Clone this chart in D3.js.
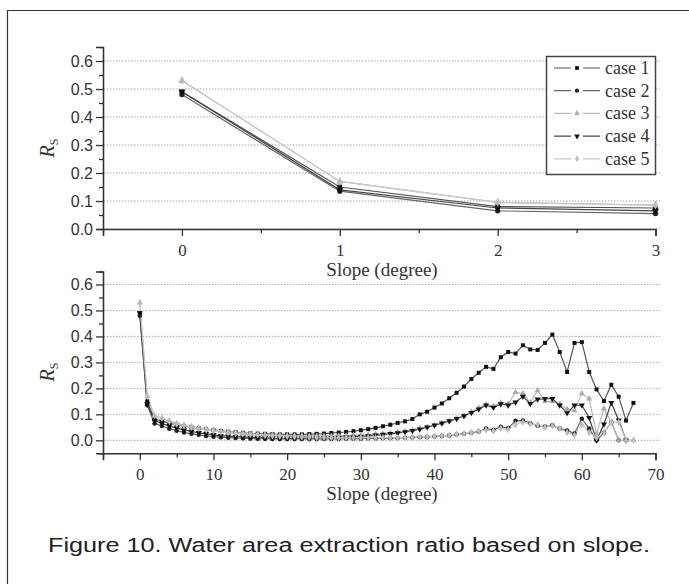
<!DOCTYPE html>
<html>
<head>
<meta charset="utf-8">
<script src="https://cdn.jsdelivr.net/npm/d3@7"></script>
<style>
  body { margin: 0; background: #fff; }
</style>
</head>
<body>
<div id="chart"></div>
<script>
// slope in degrees, one value per degree 0..67
const slopes = d3.range(0, 68);

const case1 = [0.49, 0.15, 0.08, 0.075, 0.066, 0.060, 0.055, 0.050, 0.046, 0.042,
  0.039, 0.036, 0.033, 0.031, 0.029, 0.027, 0.026, 0.025, 0.024, 0.023,
  0.023, 0.023, 0.023, 0.024, 0.025, 0.026, 0.028, 0.030, 0.032, 0.035,
  0.039, 0.043, 0.048, 0.054, 0.060, 0.067, 0.073, 0.082, 0.100, 0.110,
  0.126, 0.142, 0.162, 0.183, 0.207, 0.236, 0.260, 0.283, 0.275, 0.320,
  0.340, 0.334, 0.366, 0.350, 0.348, 0.375, 0.407, 0.340, 0.263, 0.375,
  0.378, 0.263, 0.196, 0.151, 0.214, 0.168, 0.076, 0.144];

const case2 = [0.48, 0.135, 0.065, 0.055, 0.045, 0.037, 0.030, 0.025, 0.021, 0.017,
  0.014, 0.012, 0.010, 0.009, 0.008, 0.007, 0.006, 0.006, 0.005, 0.005,
  0.005, 0.005, 0.005, 0.005, 0.005, 0.005, 0.005, 0.005, 0.006, 0.006,
  0.006, 0.007, 0.007, 0.008, 0.008, 0.009, 0.010, 0.011, 0.012, 0.013,
  0.015, 0.017, 0.019, 0.022, 0.025, 0.029, 0.034, 0.045, 0.040, 0.052,
  0.047, 0.075, 0.076, 0.066, 0.056, 0.053, 0.058, 0.045, 0.038, 0.026,
  0.083, 0.045, 0.0, 0.030, 0.070, 0.0];

const case3 = [0.53, 0.17, 0.095, 0.085, 0.075, 0.066, 0.059, 0.053, 0.048, 0.044,
  0.040, 0.036, 0.033, 0.030, 0.028, 0.026, 0.024, 0.022, 0.021, 0.020,
  0.019, 0.018, 0.018, 0.017, 0.017, 0.017, 0.017, 0.018, 0.018, 0.019,
  0.020, 0.021, 0.023, 0.025, 0.028, 0.031, 0.035, 0.040, 0.046, 0.052,
  0.058, 0.066, 0.074, 0.084, 0.096, 0.110, 0.125, 0.138, 0.132, 0.145,
  0.140, 0.185, 0.180, 0.145, 0.192, 0.150, 0.150, 0.140, 0.120, 0.115,
  0.180, 0.160, 0.025, 0.122, 0.070, 0.0, 0.0, 0.0];

const case4 = [0.49, 0.14, 0.075, 0.065, 0.055, 0.047, 0.040, 0.034, 0.029, 0.025,
  0.021, 0.018, 0.016, 0.014, 0.012, 0.011, 0.010, 0.009, 0.009, 0.008,
  0.008, 0.008, 0.008, 0.008, 0.009, 0.009, 0.010, 0.011, 0.012, 0.013,
  0.015, 0.017, 0.019, 0.022, 0.025, 0.028, 0.032, 0.037, 0.043, 0.050,
  0.058, 0.066, 0.074, 0.083, 0.094, 0.106, 0.120, 0.135, 0.126, 0.140,
  0.135, 0.147, 0.169, 0.141, 0.158, 0.160, 0.160, 0.135, 0.105, 0.135,
  0.135, 0.087, 0.0, 0.062, 0.145, 0.077, 0.0];

const case5 = [0.53, 0.17, 0.095, 0.085, 0.072, 0.063, 0.056, 0.050, 0.045, 0.040,
  0.036, 0.032, 0.029, 0.026, 0.024, 0.022, 0.020, 0.018, 0.017, 0.016,
  0.015, 0.014, 0.013, 0.012, 0.011, 0.011, 0.010, 0.010, 0.010, 0.010,
  0.010, 0.010, 0.010, 0.010, 0.010, 0.010, 0.011, 0.012, 0.013, 0.014,
  0.016, 0.018, 0.020, 0.023, 0.026, 0.030, 0.035, 0.040, 0.036, 0.046,
  0.042, 0.060, 0.070, 0.063, 0.060, 0.050, 0.055, 0.045, 0.030, 0.020,
  0.060, 0.030, 0.010, 0.030, 0.068, 0.070, 0.0, 0.0];

const caseNames = ["case 1", "case 2", "case 3", "case 4", "case 5"];
const caseValues = [case1, case2, case3, case4, case5];
const lineColors = ["#555", "#666", "#bbb", "#444", "#c8c8c8"];
const markColors = ["#111", "#222", "#aaa", "#111", "#bdbdbd"];
const markShapes = [d3.symbolSquare, d3.symbolCircle, d3.symbolTriangle, d3.symbolTriangle, d3.symbolDiamond];

const yTicks = [0.0, 0.1, 0.2, 0.3, 0.4, 0.5, 0.6];
const topXTicks = [0, 1, 2, 3];
const bottomXTicks = [0, 10, 20, 30, 40, 50, 60, 70];

const caption = "Figure 10. Water area extraction ratio based on slope.";

const width = 689, height = 584;

const svg = d3.select("#chart")
  .append("svg")
  .attr("width", width)
  .attr("height", height);

svg.append("rect").attr("width", width).attr("height", height).attr("fill", "#fff");

// page frame (top and left edge visible)
svg.append("path")
  .attr("d", `M7.5,${height} V10.5 H${width}`)
  .attr("fill", "none")
  .attr("stroke", "#333")
  .attr("stroke-width", 1.2);

const series = caseValues.map((vals, i) => ({
  name: caseNames[i],
  idx: i,
  points: vals.map((v, j) => ({ slope: slopes[j], value: v }))
}));

function drawPanel(cfg) {
  const g = svg.append("g");
  const x = d3.scaleLinear().domain(cfg.xDomain).range([103, 655.5]);
  const y = d3.scaleLinear().domain(cfg.yDomain).range([cfg.bottom, cfg.top]);

  // dotted grid
  g.selectAll(".grid")
    .data(yTicks)
    .join("line")
      .attr("x1", 104).attr("x2", 660)
      .attr("y1", d => y(d)).attr("y2", d => y(d))
      .attr("stroke", "#aaa")
      .attr("stroke-width", 1)
      .attr("stroke-dasharray", "1.5,1.5");

  // minor ticks
  const yMinor = d3.range(cfg.yDomain[0], cfg.yDomain[1] + 0.001, 0.05)
    .filter(v => !yTicks.some(t => Math.abs(t - v) < 1e-6));
  g.append("g")
    .attr("transform", "translate(103,0)")
    .call(d3.axisLeft(y).tickValues(yMinor).tickSize(4).tickFormat(""))
    .call(a => a.select(".domain").remove());
  const xMinor = d3.range(cfg.xDomain[0], cfg.xDomain[1], cfg.xMinorStep)
    .filter(v => !cfg.xTicks.includes(v));
  g.append("g")
    .attr("transform", `translate(0,${cfg.bottom})`)
    .call(d3.axisBottom(x).tickValues(xMinor).tickSize(4).tickFormat(""))
    .call(a => a.select(".domain").remove());

  // main axes
  const yAxis = g.append("g")
    .attr("transform", "translate(103,0)")
    .call(d3.axisLeft(y).tickValues(yTicks).tickSize(7).tickPadding(3).tickFormat(d3.format(".1f")));
  yAxis.selectAll("text")
    .attr("font-family", "Liberation Sans, Arial, sans-serif")
    .attr("font-size", 16)
    .attr("fill", "#333");

  const xAxis = g.append("g")
    .attr("transform", `translate(0,${cfg.bottom})`)
    .call(d3.axisBottom(x).tickValues(cfg.xTicks).tickSize(7).tickPadding(8).tickFormat(d3.format("d")));
  xAxis.selectAll("text")
    .attr("font-family", "Liberation Serif, Times New Roman, serif")
    .attr("font-size", 17)
    .attr("fill", "#333");

  g.selectAll(".domain").attr("stroke", "#333").attr("stroke-width", 1.6);
  g.selectAll(".tick line").attr("stroke", "#333").attr("stroke-width", 1.3);

  // axis titles
  g.append("text")
    .attr("x", 382)
    .attr("y", cfg.bottom + 47)
    .attr("text-anchor", "middle")
    .attr("font-family", "Liberation Serif, Times New Roman, serif")
    .attr("font-size", 19)
    .attr("fill", "#333")
    .text("Slope (degree)");

  const yl = g.append("text")
    .attr("transform", `translate(54,${cfg.labelY}) rotate(-90)`)
    .attr("text-anchor", "middle")
    .attr("font-family", "Liberation Serif, Times New Roman, serif")
    .attr("font-size", 20)
    .attr("fill", "#333");
  yl.append("tspan").attr("font-style", "italic").text("R");
  yl.append("tspan").attr("font-size", 12).attr("dy", 4).text("S");

  // lines and markers
  const line = d3.line()
    .x(d => x(d.slope))
    .y(d => y(d.value));

  const visible = series.map(s => ({
    ...s,
    points: s.points.filter(p => p.slope <= cfg.xDomain[1])
  }));

  g.selectAll(".series")
    .data(visible)
    .join("path")
      .attr("fill", "none")
      .attr("stroke", d => lineColors[d.idx])
      .attr("stroke-width", 1.2)
      .attr("d", d => line(d.points));

  visible.forEach(s => {
    g.selectAll(null)
      .data(s.points)
      .join("path")
        .attr("transform", d => `translate(${x(d.slope)},${y(d.value)})` + (s.idx === 3 ? " rotate(180)" : ""))
        .attr("d", d3.symbol().type(markShapes[s.idx]).size(cfg.markSize))
        .attr("fill", markColors[s.idx]);
  });
}

drawPanel({
  xDomain: [-0.5, 3], yDomain: [0, 0.65], xTicks: topXTicks, xMinorStep: 0.5,
  top: 47, bottom: 229, labelY: 148, markSize: 22
});

drawPanel({
  xDomain: [-5, 70], yDomain: [-0.05, 0.65], xTicks: bottomXTicks, xMinorStep: 5,
  top: 271.5, bottom: 453.3, labelY: 372, markSize: 16
});

// legend
const legend = svg.append("g");
legend.append("rect")
  .attr("x", 546.5).attr("y", 56.5)
  .attr("width", 109).attr("height", 118)
  .attr("fill", "#fff")
  .attr("stroke", "#444")
  .attr("stroke-width", 1.5);

const legendRows = legend.selectAll(".row")
  .data(series)
  .join("g")
    .attr("transform", (d, i) => `translate(0,${68 + i * 22.7})`);

legendRows.append("line")
  .attr("x1", 554).attr("x2", 600)
  .attr("stroke", d => lineColors[d.idx])
  .attr("stroke-width", 1.2);
legendRows.append("rect")
  .attr("x", 571).attr("y", -1).attr("width", 12).attr("height", 2)
  .attr("fill", "#fff");
legendRows.append("path")
  .attr("transform", d => "translate(577,0)" + (d.idx === 3 ? " rotate(180)" : ""))
  .attr("d", d => d3.symbol().type(markShapes[d.idx]).size(14)())
  .attr("fill", d => markColors[d.idx]);
legendRows.append("text")
  .attr("x", 605).attr("y", 6)
  .attr("font-family", "Liberation Serif, Times New Roman, serif")
  .attr("font-size", 18)
  .attr("fill", "#333")
  .text(d => d.name);

// caption
svg.append("text")
  .attr("x", 48)
  .attr("y", 552)
  .attr("textLength", 602)
  .attr("lengthAdjust", "spacingAndGlyphs")
  .attr("font-family", "Liberation Sans, Arial, sans-serif")
  .attr("font-size", 20)
  .attr("fill", "#222")
  .text(caption);
</script>
</body>
</html>
